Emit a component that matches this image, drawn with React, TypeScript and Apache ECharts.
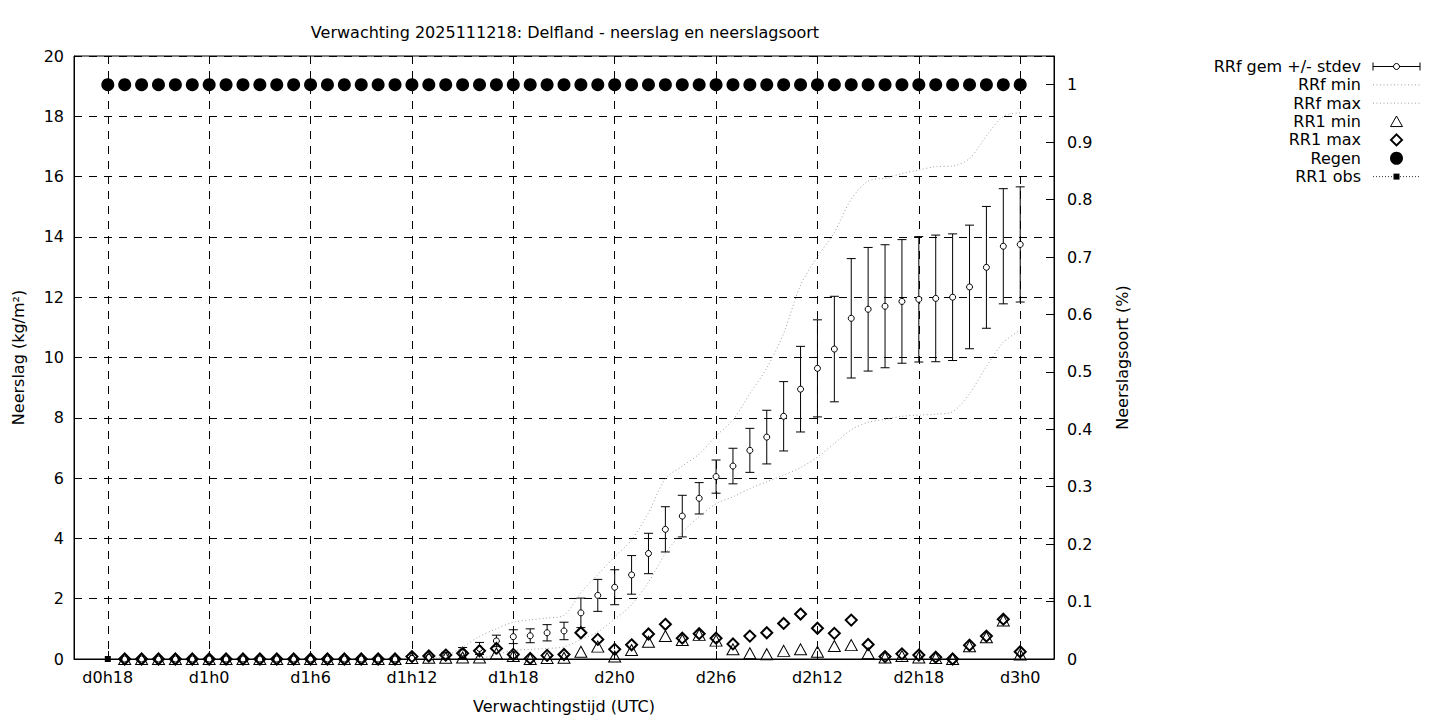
import React, { useEffect, useRef } from 'react';
import * as echarts from 'echarts';

// ---- Data (hours counted from d0h0) ----
const AXIS_START_HOUR = 16;
const AXIS_END_HOUR = 74;
const TICK_HOURS = [18, 24, 30, 36, 42, 48, 54, 60, 66, 72];

// RR1 obs (d0h18)
const OBS_START = 18;
const rr1Obs = [0];

// Regen (right axis), d0h18 .. d3h0
const REGEN_START = 18;
const regen = [
  1, 1, 1, 1, 1, 1, 1, 1, 1, 1, 1, 1, 1, 1, 1, 1, 1, 1, 1, 1,
  1, 1, 1, 1, 1, 1, 1, 1, 1, 1, 1, 1, 1, 1, 1, 1, 1, 1, 1, 1,
  1, 1, 1, 1, 1, 1, 1, 1, 1, 1, 1, 1, 1, 1, 1,
];

// Hourly forecast series, d0h19 .. d3h0
const FC_START = 19;
const rrfMean = [
  0, 0, 0, 0, 0, 0, 0, 0, 0, 0, 0, 0, 0, 0, 0, 0, 0,
  0.02, 0.05, 0.12, 0.2, 0.35, 0.6, 0.74, 0.77, 0.87, 0.93,
  1.53, 2.11, 2.38, 2.79, 3.5, 4.3, 4.74, 5.33, 6.05, 6.4,
  6.92, 7.36, 8.05, 8.95, 9.64, 10.28, 11.3, 11.6, 11.7, 11.86,
  11.93, 11.96, 12.0, 12.34, 12.99, 13.69, 13.75,
];
const rrfStdev = [
  0, 0, 0, 0, 0, 0, 0, 0, 0, 0, 0, 0, 0, 0, 0, 0, 0,
  0.02, 0.05, 0.1, 0.18, 0.2, 0.19, 0.23, 0.23, 0.27, 0.29,
  0.49, 0.53, 0.58, 0.64, 0.67, 0.75, 0.69, 0.52, 0.55, 0.59,
  0.73, 0.89, 1.15, 1.42, 1.61, 1.75, 1.98, 2.05, 2.04, 2.05,
  2.08, 2.1, 2.1, 2.05, 2.02, 1.91, 1.91,
];
const rrfMin = [
  null, null, null, null, null, null, null, null, null, null, null, null, null, null, null, null, null,
  null, null, null, null, 0, 0.15, 0.28, 0.32, 0.35, 0.4,
  0.65, 0.9, 1.32, 1.8, 2.55, 3.5, 4.2, 4.72, 5.15, 5.38,
  5.65, 5.88, 6.1, 6.35, 6.7, 7.15, 7.6, 7.85, 7.95, 8.05,
  8.09, 8.12, 8.2, 8.8, 9.7, 10.5, 10.9,
];
const rrfMax = [
  null, null, null, null, null, null, null, null, null, null, null, null, null, null, null, null, null,
  null, 0, 0.1, 0.4, 0.75, 1.0, 1.22, 1.3, 1.36, 1.45,
  2.2, 2.8, 3.39, 3.95, 4.85, 5.98, 6.4, 6.8, 7.4, 7.93,
  8.8, 9.65, 10.8, 12.4, 13.34, 14.15, 15.25, 15.85, 15.95, 16.1,
  16.22, 16.33, 16.35, 16.6, 17.35, 18.0, 18.12,
];
const rr1Min = [
  0, 0, 0, 0, 0, 0, 0, 0, 0, 0, 0, 0, 0, 0, 0, 0, 0,
  0.03, 0.04, 0.04, 0.05, 0.05, 0.18, 0.1, 0.0, 0.03, 0.04,
  0.24, 0.41, 0.08, 0.3, 0.57, 0.76, 0.63, 0.8, 0.61, 0.32,
  0.19, 0.16, 0.27, 0.32, 0.24, 0.43, 0.46, 0.19, 0.05, 0.1,
  0.05, 0.03, 0.0, 0.42, 0.72, 1.28, 0.15,
];
const rr1Max = [
  0, 0, 0, 0, 0, 0, 0, 0, 0, 0, 0, 0, 0, 0, 0, 0, 0,
  0.08, 0.1, 0.13, 0.19, 0.27, 0.35, 0.15, 0.02, 0.12, 0.15,
  0.87, 0.65, 0.32, 0.47, 0.83, 1.15, 0.69, 0.84, 0.69, 0.5,
  0.76, 0.87, 1.18, 1.49, 1.02, 0.85, 1.29, 0.48, 0.08, 0.17,
  0.13, 0.06, 0.0, 0.46, 0.76, 1.32, 0.24,
];

const TITLE = 'Verwachting 2025111218: Delfland - neerslag en neerslagsoort';
const LEGEND_LABELS = ['RRf gem +/- stdev', 'RRf min', 'RRf max', 'RR1 min', 'RR1 max', 'Regen', 'RR1 obs'];

const FONT = 'DejaVu Sans';

const hourLabel = (h: number) => `d${Math.floor(h / 24)}h${h % 24}`;
const categories: string[] = [];
for (let h = AXIS_START_HOUR; h <= AXIS_END_HOUR; h++) categories.push(hourLabel(h));
const tickLabelSet = new Set(TICK_HOURS.map(hourLabel));
const showTick = (_i: number, v: string) => tickLabelSet.has(v);

const toPairs = (start: number, vals: (number | null)[]) =>
  vals.map((v, i) => [hourLabel(start + i), v]);

export default function App() {
  const ref = useRef<HTMLDivElement>(null);

  useEffect(() => {
    if (!ref.current) return;
    const chart = echarts.init(ref.current, null, { renderer: 'svg' });

    const LX = 1361; // legend text right edge
    const SX1 = 1373;
    const SX2 = 1420;
    const SXC = 1396.5;
    const ROW0 = 66.5;
    const ROWSTEP = 18.35;
    const rowY = (i: number) => ROW0 + i * ROWSTEP;

    const legendTexts = LEGEND_LABELS.map((t, i) => ({
      type: 'text',
      x: LX,
      y: rowY(i),
      style: { text: t, fill: '#000', font: `16px "${FONT}"`, textAlign: 'right', textVerticalAlign: 'middle' },
    }));

    const blk = { stroke: '#000', lineWidth: 1 };
    const legendSymbols: any[] = [
      // errorbar
      { type: 'line', shape: { x1: SX1, y1: rowY(0), x2: SX2, y2: rowY(0) }, style: blk },
      { type: 'line', shape: { x1: SX1, y1: rowY(0) - 4, x2: SX1, y2: rowY(0) + 4 }, style: blk },
      { type: 'line', shape: { x1: SX2, y1: rowY(0) - 4, x2: SX2, y2: rowY(0) + 4 }, style: blk },
      { type: 'circle', shape: { cx: SXC, cy: rowY(0), r: 3 }, style: { fill: '#fff', stroke: '#000', lineWidth: 1 } },
      // dotted gray lines
      { type: 'line', shape: { x1: SX1, y1: rowY(1), x2: SX2, y2: rowY(1) }, style: { stroke: '#a0a0a0', lineWidth: 1, lineDash: [1, 2.5] } },
      { type: 'line', shape: { x1: SX1, y1: rowY(2), x2: SX2, y2: rowY(2) }, style: { stroke: '#a0a0a0', lineWidth: 1, lineDash: [1, 2.5] } },
      // triangle
      { type: 'polygon', shape: { points: [[SXC, rowY(3) - 5.5], [SXC - 6, rowY(3) + 5], [SXC + 6, rowY(3) + 5]] }, style: { fill: 'none', stroke: '#000', lineWidth: 1 } },
      // diamond
      { type: 'polygon', shape: { points: [[SXC, rowY(4) - 5.5], [SXC + 5.5, rowY(4)], [SXC, rowY(4) + 5.5], [SXC - 5.5, rowY(4)]] }, style: { fill: 'none', stroke: '#000', lineWidth: 2 } },
      // filled circle
      { type: 'circle', shape: { cx: SXC, cy: rowY(5), r: 6.5 }, style: { fill: '#000' } },
      // dotted dark line with square
      { type: 'line', shape: { x1: SX1, y1: rowY(6), x2: SX2, y2: rowY(6) }, style: { stroke: '#333', lineWidth: 1, lineDash: [1, 2] } },
      { type: 'rect', shape: { x: SXC - 3, y: rowY(6) - 3, width: 6, height: 6 }, style: { fill: '#000' } },
    ];

    const axisFont = { color: '#000', fontSize: 16, fontFamily: FONT };
    const dash = { color: '#000', width: 1, type: [8, 7] as number[] };

    chart.setOption({
      animation: false,
      backgroundColor: '#fff',
      textStyle: { fontFamily: FONT },
      title: {
        text: TITLE,
        left: 560,
        top: 19,
        textAlign: 'center',
        textStyle: { color: '#000', fontSize: 16, fontWeight: 'normal', fontFamily: FONT },
      },
      grid: {
        left: 74,
        right: 386,
        top: 56,
        bottom: 61,
        show: true,
        borderColor: '#000',
        borderWidth: 1,
        backgroundColor: 'transparent',
      },
      xAxis: {
        type: 'category',
        data: categories,
        boundaryGap: false,
        axisLine: { show: true, lineStyle: { color: '#000', width: 1 } },
        axisTick: { show: true, inside: true, length: 8, interval: showTick, lineStyle: { color: '#000' } },
        axisLabel: { ...axisFont, interval: showTick, margin: 10, hideOverlap: false },
        splitLine: { show: true, interval: showTick, lineStyle: dash },
        name: 'Verwachtingstijd (UTC)',
        nameLocation: 'middle',
        nameGap: 39,
        nameTextStyle: axisFont,
      },
      yAxis: [
        {
          type: 'value',
          position: 'left',
          min: 0,
          max: 20,
          interval: 2,
          axisLine: { show: true, lineStyle: { color: '#000', width: 1 } },
          axisTick: { show: true, inside: true, length: 8, lineStyle: { color: '#000' } },
          axisLabel: { ...axisFont, margin: 10 },
          splitLine: { show: true, lineStyle: dash },
          name: 'Neerslag (kg/m²)',
          nameLocation: 'middle',
          nameRotate: 90,
          nameGap: 48,
          nameTextStyle: axisFont,
        },
        {
          type: 'value',
          position: 'right',
          min: 0,
          max: 1.05,
          interval: 0.1,
          axisLine: { show: true, lineStyle: { color: '#000', width: 1 } },
          axisTick: { show: true, inside: true, length: 8, lineStyle: { color: '#000' } },
          axisLabel: {
            ...axisFont,
            margin: 13,
            formatter: (v: number) => (v > 1.0001 ? '' : String(Math.round(v * 10) / 10)),
          },
          splitLine: { show: false },
          name: 'Neerslagsoort (%)',
          nameLocation: 'middle',
          nameRotate: 90,
          nameGap: 60,
          nameTextStyle: axisFont,
        },
      ],
      graphic: [...legendTexts, ...legendSymbols],
      series: [
        {
          name: 'RRf stdev',
          type: 'custom',
          xAxisIndex: 0,
          yAxisIndex: 0,
          encode: { x: 0, y: 1 },
          data: rrfMean.map((m, i) => [hourLabel(FC_START + i), m, rrfStdev[i]]),
          renderItem: (_params: any, api: any) => {
            const x = api.value(0);
            const m = api.value(1) as number;
            const s = api.value(2) as number;
            const p1 = api.coord([x, m + s]);
            const p2 = api.coord([x, m - s]);
            const w = 4.5;
            const st = { stroke: '#000', lineWidth: 1 };
            return {
              type: 'group',
              children: [
                { type: 'line', shape: { x1: p1[0], y1: p1[1], x2: p2[0], y2: p2[1] }, style: st },
                { type: 'line', shape: { x1: p1[0] - w, y1: p1[1], x2: p1[0] + w, y2: p1[1] }, style: st },
                { type: 'line', shape: { x1: p2[0] - w, y1: p2[1], x2: p2[0] + w, y2: p2[1] }, style: st },
              ],
            };
          },
        },
        {
          name: 'RRf gem',
          type: 'scatter',
          data: toPairs(FC_START, rrfMean),
          symbol: 'circle',
          symbolSize: 6,
          itemStyle: { color: '#fff', borderColor: '#000', borderWidth: 1, opacity: 1 },
          emphasis: { disabled: true },
        },
        {
          name: 'RRf min',
          type: 'line',
          data: toPairs(FC_START, rrfMin),
          showSymbol: false,
          symbol: 'none',
          smooth: 0.3,
          lineStyle: { color: '#a0a0a0', width: 1, type: [1, 2.5] },
        },
        {
          name: 'RRf max',
          type: 'line',
          data: toPairs(FC_START, rrfMax),
          showSymbol: false,
          symbol: 'none',
          smooth: 0.3,
          lineStyle: { color: '#a0a0a0', width: 1, type: [1, 2.5] },
        },
        {
          name: 'RR1 min',
          type: 'scatter',
          data: toPairs(FC_START, rr1Min),
          symbol: 'triangle',
          symbolSize: [12, 11],
          itemStyle: { color: 'rgba(0,0,0,0)', borderColor: '#000', borderWidth: 1, opacity: 1 },
          emphasis: { disabled: true },
        },
        {
          name: 'RR1 max',
          type: 'scatter',
          data: toPairs(FC_START, rr1Max),
          symbol: 'diamond',
          symbolSize: 11,
          itemStyle: { color: 'rgba(0,0,0,0)', borderColor: '#000', borderWidth: 2, opacity: 1 },
          emphasis: { disabled: true },
        },
        {
          name: 'Regen',
          type: 'scatter',
          yAxisIndex: 1,
          data: toPairs(REGEN_START, regen),
          symbol: 'circle',
          symbolSize: 13,
          itemStyle: { color: '#000', opacity: 1 },
          emphasis: { disabled: true },
        },
        {
          name: 'RR1 obs',
          type: 'line',
          data: toPairs(OBS_START, rr1Obs),
          symbol: 'rect',
          symbolSize: 6,
          showSymbol: true,
          itemStyle: { color: '#000', opacity: 1 },
          lineStyle: { color: '#333', width: 1, type: [1, 2] },
        },
      ],
    });

    return () => chart.dispose();
  }, []);

  return <div ref={ref} style={{ position: 'fixed', left: 0, top: 0, width: 1440, height: 720 }} />;
}
